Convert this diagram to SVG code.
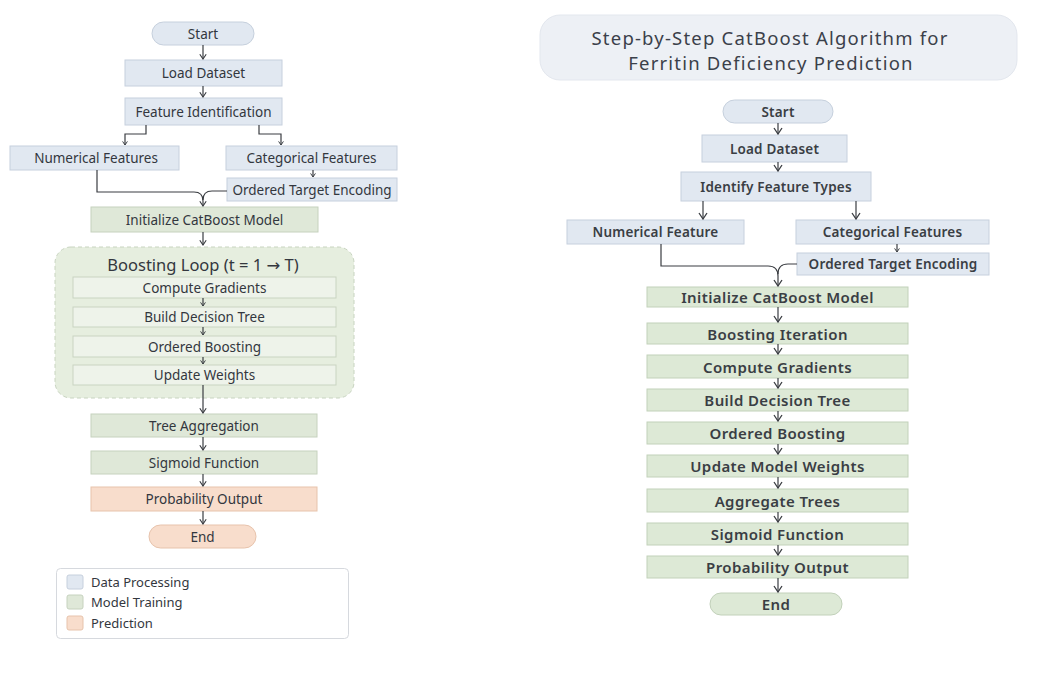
<svg xmlns="http://www.w3.org/2000/svg" width="1049" height="694" viewBox="0 0 1049 694">
<defs>
<marker id="ah" viewBox="0 0 10 10" refX="9" refY="5" markerWidth="8" markerHeight="8" markerUnits="userSpaceOnUse" orient="auto">
<path d="M3,1 L9,5 L3,9" fill="none" stroke="#3a3d42" stroke-width="1.4"/>
</marker>
<marker id="ah2" viewBox="0 0 10 10" refX="9" refY="5" markerWidth="10" markerHeight="10" markerUnits="userSpaceOnUse" orient="auto">
<path d="M3,1 L9,5 L3,9" fill="none" stroke="#3a3d42" stroke-width="1.3"/>
</marker>
<marker id="ah3" viewBox="0 0 10 10" refX="9" refY="5" markerWidth="6" markerHeight="6" markerUnits="userSpaceOnUse" orient="auto">
<path d="M3,1 L9,5 L3,9" fill="none" stroke="#3a3d42" stroke-width="1.6"/>
</marker>
</defs>
<style>
text{font-family:"Noto Sans","Open Sans","DejaVu Sans",sans-serif;fill:#33373e;text-anchor:middle;dominant-baseline:central}
.blue{fill:#e1e8f1;stroke:#c6d0dd;stroke-width:1}
.green{fill:#dfe8d8;stroke:#c6d2be;stroke-width:1}
.inner{fill:#eef3ea;stroke:#c9d4c2;stroke-width:1}
.orange{fill:#f8ddcc;stroke:#e7c3ac;stroke-width:1}
.rgreen{fill:#dde9d6;stroke:#c2d1ba;stroke-width:1}
.lt{font-size:13.5px}
.rt{font-size:15px;font-weight:600;letter-spacing:0.4px;fill:#3a3e44}
.rb{font-size:13.5px;font-weight:600;letter-spacing:0.2px;fill:#3a3e44}
.c{fill:none;stroke:#3a3d42;stroke-width:1.2}
.leg{font-size:13px;text-anchor:start}
.ttl{font-size:18.5px;letter-spacing:1.2px;fill:#3b404a}
</style>
<rect width="1049" height="694" fill="#ffffff"/>

<!-- LEFT DIAGRAM -->
<g id="l-loop">
<rect x="55" y="247" width="299" height="151" rx="16" fill="#e6eedf" stroke="#c8d4c0" stroke-width="1" stroke-dasharray="4 3"/>
<text x="203" y="264" style="font-size:16.5px">Boosting Loop (t = 1 → T)</text>
</g>
<g id="l-start"><rect x="152" y="22" width="102" height="23" rx="11.5" class="blue"/><text x="203" y="33.5" class="lt">Start</text></g>
<g id="l-load"><rect x="125" y="60" width="157" height="26" class="blue"/><text x="203.5" y="73" class="lt">Load Dataset</text></g>
<g id="l-featid"><rect x="125" y="98" width="157" height="27" class="blue"/><text x="203.5" y="111.5" class="lt">Feature Identification</text></g>
<g id="l-num"><rect x="10" y="146" width="169" height="24" class="blue"/><text x="96" y="158" class="lt">Numerical Features</text></g>
<g id="l-cat"><rect x="226" y="146" width="171" height="24" class="blue"/><text x="311.5" y="158" class="lt">Categorical Features</text></g>
<g id="l-ote"><rect x="227" y="178" width="170" height="23" class="blue"/><text x="312" y="189.5" class="lt">Ordered Target Encoding</text></g>
<g id="l-init"><rect x="91" y="207" width="227" height="25" class="green"/><text x="204.5" y="219.5" class="lt">Initialize CatBoost Model</text></g>
<g id="l-grad"><rect x="73" y="277" width="263" height="21" class="inner"/><text x="204.5" y="287.5" class="lt">Compute Gradients</text></g>
<g id="l-tree"><rect x="73" y="307" width="263" height="20" class="inner"/><text x="204.5" y="317" class="lt">Build Decision Tree</text></g>
<g id="l-ob"><rect x="73" y="336" width="263" height="21" class="inner"/><text x="204.5" y="346.5" class="lt">Ordered Boosting</text></g>
<g id="l-uw"><rect x="73" y="365" width="263" height="20" class="inner"/><text x="204.5" y="375" class="lt">Update Weights</text></g>
<g id="l-agg"><rect x="91" y="414" width="226" height="23" class="green"/><text x="204" y="425.5" class="lt">Tree Aggregation</text></g>
<g id="l-sig"><rect x="91" y="451" width="226" height="23" class="green"/><text x="204" y="462.5" class="lt">Sigmoid Function</text></g>
<g id="l-prob"><rect x="91" y="487" width="226" height="24" class="orange"/><text x="204" y="499" class="lt">Probability Output</text></g>
<g id="l-end"><rect x="149" y="525" width="107" height="23" rx="11.5" class="orange"/><text x="202.5" y="536.5" class="lt">End</text></g>
<g id="legend">
<rect x="56.5" y="568.5" width="292" height="70" rx="4" fill="#ffffff" stroke="#d6d9de" stroke-width="1"/>
<rect x="67" y="575" width="16" height="14" rx="2" class="blue"/>
<text x="91" y="582" class="leg">Data Processing</text>
<rect x="67" y="595" width="16" height="14" rx="2" class="green"/>
<text x="91" y="602" class="leg">Model Training</text>
<rect x="67" y="616" width="16" height="14" rx="2" class="orange"/>
<text x="91" y="623" class="leg">Prediction</text>
</g>

<!-- RIGHT DIAGRAM -->
<g id="r-title">
<rect x="540" y="15" width="477" height="65" rx="20" fill="#edf0f5" stroke="#e3e7ee" stroke-width="1"/>
<text x="770" y="37" class="ttl">Step-by-Step CatBoost Algorithm for</text>
<text x="771" y="62" class="ttl">Ferritin Deficiency Prediction</text>
</g>
<g id="r-start"><rect x="723" y="100" width="110" height="23" rx="11.5" class="blue"/><text x="778" y="111.5" class="rb">Start</text></g>
<g id="r-load"><rect x="702" y="135" width="145" height="27" class="blue"/><text x="774.5" y="148.5" class="rb">Load Dataset</text></g>
<g id="r-ident"><rect x="681" y="172" width="190" height="29" class="blue"/><text x="776" y="186.5" class="rb">Identify Feature Types</text></g>
<g id="r-num"><rect x="567" y="220" width="177" height="24" class="blue"/><text x="655.5" y="232" class="rb">Numerical Feature</text></g>
<g id="r-cat"><rect x="796" y="220" width="193" height="24" class="blue"/><text x="892.5" y="232" class="rb">Categorical Features</text></g>
<g id="r-ote"><rect x="797" y="253" width="192" height="22" class="blue"/><text x="893" y="264" class="rb">Ordered Target Encoding</text></g>
<g id="r-init"><rect x="647" y="287" width="261" height="20" class="rgreen"/><text x="777.5" y="297" class="rt">Initialize CatBoost Model</text></g>
<g id="r-iter"><rect x="647" y="323" width="261" height="21" class="rgreen"/><text x="777.5" y="333.5" class="rt">Boosting Iteration</text></g>
<g id="r-grad"><rect x="647" y="355" width="261" height="23" class="rgreen"/><text x="777.5" y="366.5" class="rt">Compute Gradients</text></g>
<g id="r-tree"><rect x="647" y="389" width="261" height="22" class="rgreen"/><text x="777.5" y="400" class="rt">Build Decision Tree</text></g>
<g id="r-ob"><rect x="647" y="422" width="261" height="22" class="rgreen"/><text x="777.5" y="433" class="rt">Ordered Boosting</text></g>
<g id="r-uw"><rect x="647" y="455" width="261" height="22" class="rgreen"/><text x="777.5" y="466" class="rt">Update Model Weights</text></g>
<g id="r-agg"><rect x="647" y="489" width="261" height="23" class="rgreen"/><text x="777.5" y="500.5" class="rt">Aggregate Trees</text></g>
<g id="r-sig"><rect x="647" y="523" width="261" height="22" class="rgreen"/><text x="777.5" y="534" class="rt">Sigmoid Function</text></g>
<g id="r-prob"><rect x="647" y="556" width="261" height="22" class="rgreen"/><text x="777.5" y="567" class="rt">Probability Output</text></g>
<g id="r-end"><rect x="710" y="593" width="132" height="22" rx="11" class="rgreen"/><text x="776" y="604" class="rt">End</text></g>

<!-- CONNECTORS -->
<g id="connectors">
<path class="c" d="M203,45 V59" marker-end="url(#ah)"/>
<path class="c" d="M203,86 V97" marker-end="url(#ah)"/>
<path class="c" d="M146,125 V134 H125 V145" marker-end="url(#ah3)"/>
<path class="c" d="M259,125 V134 H281 V145" marker-end="url(#ah3)"/>
<path class="c" d="M313,170 V177" marker-end="url(#ah3)"/>
<path class="c" d="M97,170 V192 H194 Q203,192 203,201 V206" marker-end="url(#ah)"/>
<path class="c" d="M227,191 H212 Q203,191 203,200"/>
<path class="c" d="M203,232 V245" marker-end="url(#ah)"/>
<path class="c" d="M203,298 V306" marker-end="url(#ah3)"/>
<path class="c" d="M203,327 V335" marker-end="url(#ah3)"/>
<path class="c" d="M203,357 V364" marker-end="url(#ah3)"/>
<path class="c" d="M203,385 V413" marker-end="url(#ah)"/>
<path class="c" d="M203,437 V450" marker-end="url(#ah)"/>
<path class="c" d="M203,474 V486" marker-end="url(#ah)"/>
<path class="c" d="M203,511 V524" marker-end="url(#ah)"/>

<path class="c" d="M778,123 V134" marker-end="url(#ah2)"/>
<path class="c" d="M778,162 V171" marker-end="url(#ah2)"/>
<path class="c" d="M703,201 V219" marker-end="url(#ah2)"/>
<path class="c" d="M856,201 V219" marker-end="url(#ah2)"/>
<path class="c" d="M897,244 V252" marker-end="url(#ah3)"/>
<path class="c" d="M661,244 V266 H768 Q778,266 778,276 V286" marker-end="url(#ah2)"/>
<path class="c" d="M797,264 H788 Q778,264 778,274"/>
<path class="c" d="M778,307 V322" marker-end="url(#ah2)"/>
<path class="c" d="M778,344 V354" marker-end="url(#ah2)"/>
<path class="c" d="M778,378 V388" marker-end="url(#ah2)"/>
<path class="c" d="M778,411 V421" marker-end="url(#ah2)"/>
<path class="c" d="M778,444 V454" marker-end="url(#ah2)"/>
<path class="c" d="M778,477 V488" marker-end="url(#ah2)"/>
<path class="c" d="M778,512 V522" marker-end="url(#ah2)"/>
<path class="c" d="M778,545 V555" marker-end="url(#ah2)"/>
<path class="c" d="M778,578 V592" marker-end="url(#ah2)"/>
</g>
</svg>
